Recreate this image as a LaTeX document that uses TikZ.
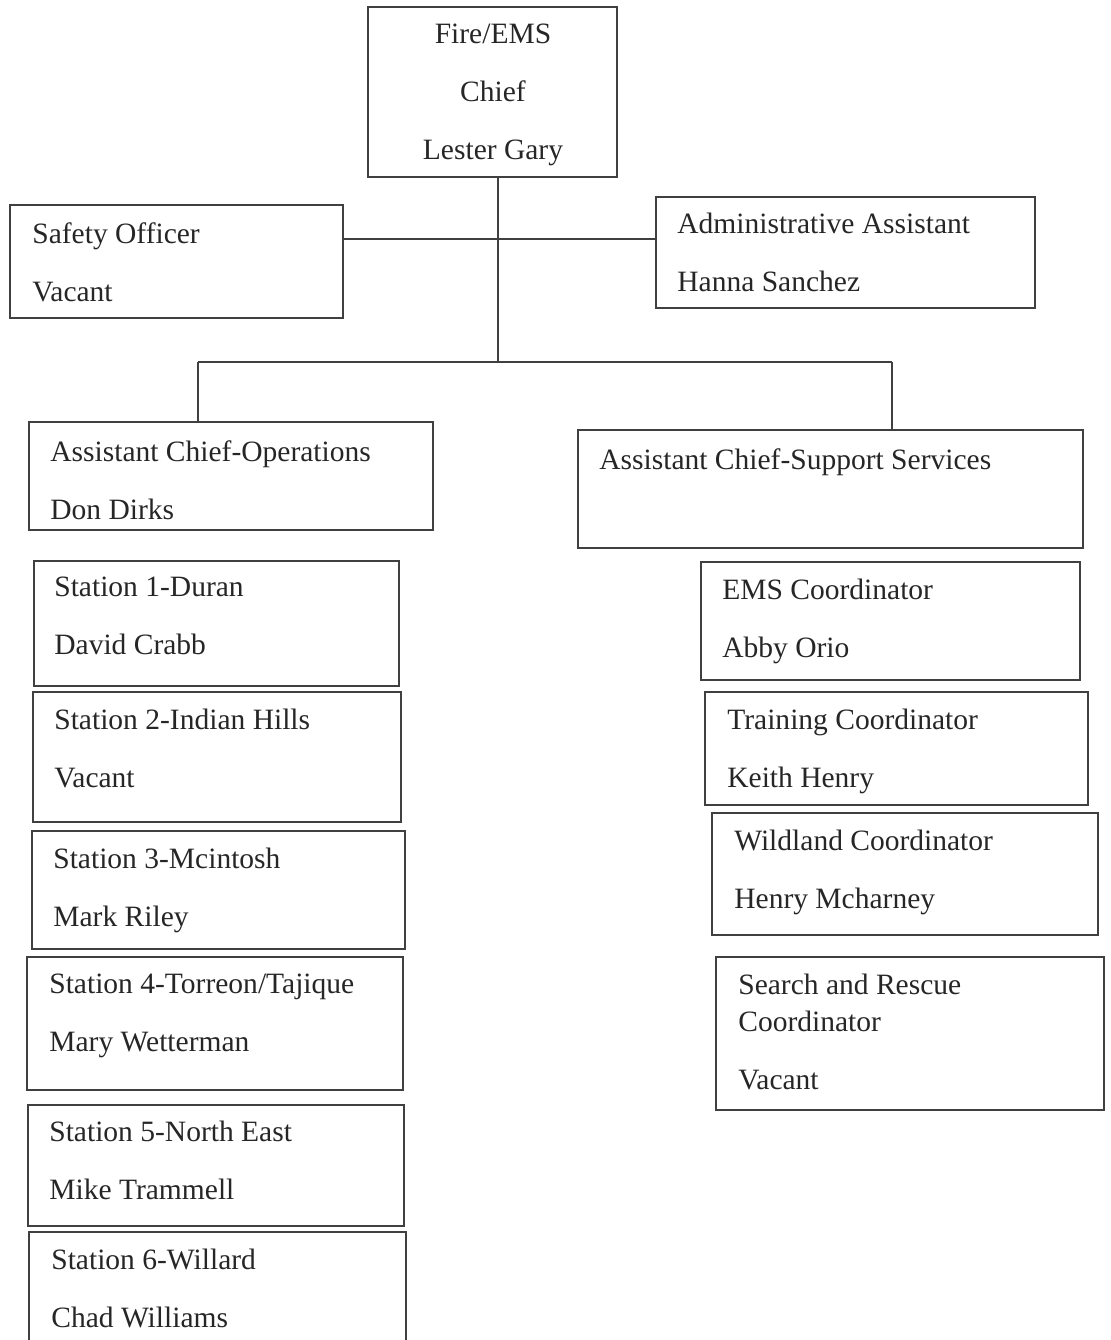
\documentclass[tikz,border=0pt]{standalone}
\usepackage{fontspec}
\setmainfont{Liberation Serif}
\usetikzlibrary{fit,calc}

\tikzset{
    orgbox/.style={draw=black!75, line width=1pt, inner sep=0pt},
    orgtext/.style={anchor=north west, inner sep=0pt, align=left, text=black!85,
                    font=\fontsize{16.8}{33}\selectfont},
    orgline/.style={draw=black!75, line width=1pt}
}

\begin{document}
\begin{tikzpicture}[x=0.02cm,y=-0.02cm]
    \useasboundingbox (0,0) rectangle (1111,1340);
    \clip (0,0) rectangle (1111,1340);
    % top level
    \node[orgbox, fit={(368,7) (617,177)}] (chief) {};
    \node[orgtext, anchor=north, align=center] (chieftxt) at (493,24) {Fire/EMS\\Chief\\Lester Gary};
    \node[orgbox, fit={(10,205) (343,318)}] (safety) {};
    \node[orgtext] (safetytxt) at (32,222) {Safety Officer\\Vacant};
    \node[orgbox, fit={(656,197) (1035,308)}] (admin) {};
    \node[orgtext] (admintxt) at (677,213) {Administrative Assistant\\Hanna Sanchez};
    % assistant chiefs
    \node[orgbox, fit={(29,422) (433,530)}] (ops) {};
    \node[orgtext] (opstxt) at (50,440) {Assistant Chief-Operations\\Don Dirks};
    \node[orgbox, fit={(578,430) (1083,548)}] (support) {};
    \node[orgtext] (supporttxt) at (599,448) {Assistant Chief-Support Services};
    % stations
    \node[orgbox, fit={(34,561) (399,686)}] (st1) {};
    \node[orgtext] (st1txt) at (54,577) {Station 1-Duran\\David Crabb};
    \node[orgbox, fit={(33,692) (401,822)}] (st2) {};
    \node[orgtext] (st2txt) at (54,709) {Station 2-Indian Hills\\Vacant};
    \node[orgbox, fit={(32,831) (405,949)}] (st3) {};
    \node[orgtext] (st3txt) at (53,848) {Station 3-Mcintosh\\Mark Riley};
    \node[orgbox, fit={(27,957) (403,1090)}] (st4) {};
    \node[orgtext] (st4txt) at (49,974) {Station 4-Torreon/Tajique\\Mary Wetterman};
    \node[orgbox, fit={(28,1105) (404,1226)}] (st5) {};
    \node[orgtext] (st5txt) at (49,1121) {Station 5-North East\\Mike Trammell};
    \node[orgbox, fit={(29,1232) (406,1360)}] (st6) {};
    \node[orgtext] (st6txt) at (51,1249) {Station 6-Willard\\Chad Williams};
    % coordinators
    \node[orgbox, fit={(701,562) (1080,680)}] (ems) {};
    \node[orgtext] (emstxt) at (722,579) {EMS Coordinator\\Abby Orio};
    \node[orgbox, fit={(705,692) (1088,805)}] (train) {};
    \node[orgtext] (traintxt) at (727,709) {Training Coordinator\\Keith Henry};
    \node[orgbox, fit={(712,813) (1098,935)}] (wild) {};
    \node[orgtext] (wildtxt) at (734,830) {Wildland Coordinator\\Henry Mcharney};
    \node[orgbox, fit={(716,957) (1104,1110)}] (sar) {};
    \node[orgtext] (sartxt) at (738,974) {Search and Rescue\\[-12pt]Coordinator\\Vacant};
    % connectors
    \coordinate (trunk) at (498,362);
    \coordinate (midbar) at (498,239);
    \coordinate (opsdrop) at (198,362);
    \coordinate (supdrop) at (892,362);
    \draw[orgline] (chief.south -| trunk) -- (trunk);
    \draw[orgline] (safety.east |- midbar) -- (admin.west |- midbar);
    \draw[orgline] (opsdrop) -- (supdrop);
    \draw[orgline] (opsdrop) -- (opsdrop |- ops.north);
    \draw[orgline] (supdrop) -- (supdrop |- support.north);
\end{tikzpicture}
\end{document}
